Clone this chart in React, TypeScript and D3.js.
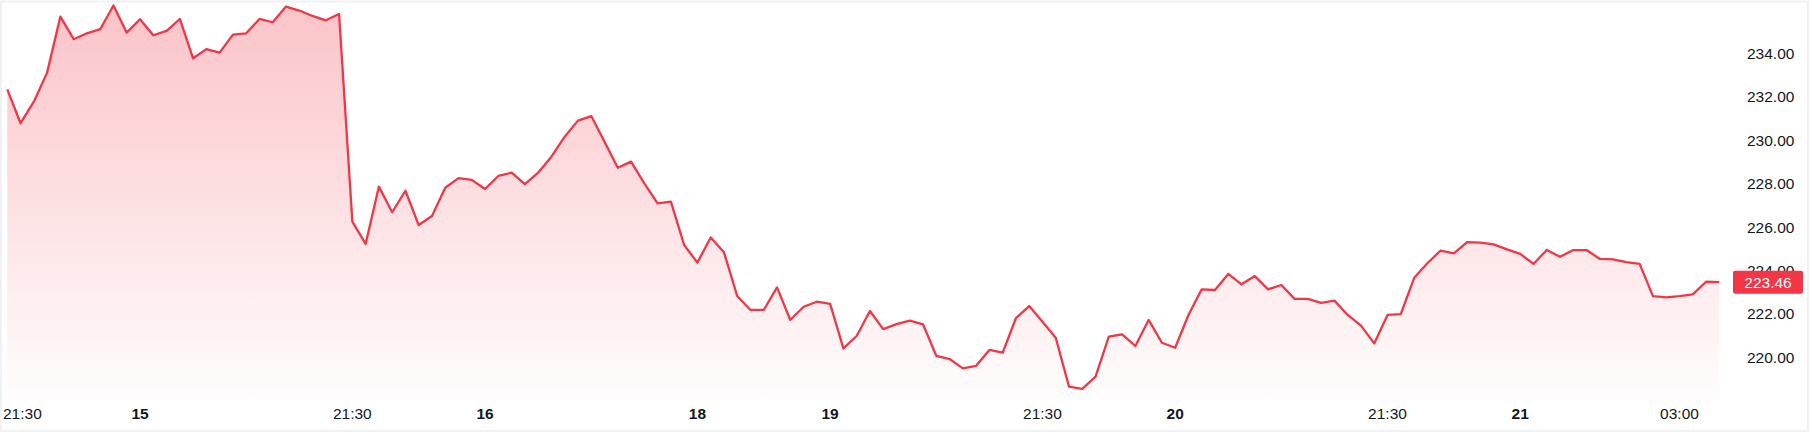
import React from "react";
import * as d3 from "d3";

const prices: number[] = [
  232.34, 230.78, 231.77, 233.11, 235.69, 234.65, 234.92, 235.11, 236.2, 234.95,
  235.57, 234.83, 235.03, 235.58, 233.77, 234.19, 234.03, 234.86, 234.92, 235.58,
  235.43, 236.15, 235.97, 235.72, 235.52, 235.81, 226.25, 225.22, 227.86, 226.68,
  227.67, 226.09, 226.51, 227.81, 228.25, 228.17, 227.75, 228.35, 228.5, 227.97,
  228.5, 229.24, 230.16, 230.9, 231.11, 229.93, 228.73, 229.01, 228.01, 227.09,
  227.17, 225.17, 224.36, 225.52, 224.84, 222.82, 222.18, 222.18, 223.22, 221.72,
  222.33, 222.56, 222.46, 220.41, 220.98, 222.13, 221.3, 221.53, 221.69, 221.52,
  220.07, 219.92, 219.49, 219.61, 220.34, 220.21, 221.8, 222.36, 221.64, 220.9,
  218.65, 218.55, 219.11, 220.95, 221.06, 220.52, 221.72, 220.67, 220.44, 221.95,
  223.13, 223.1, 223.84, 223.36, 223.74, 223.13, 223.33, 222.69, 222.69, 222.51,
  222.61, 221.95, 221.46, 220.64, 221.95, 221.99, 223.65, 224.33, 224.91, 224.79,
  225.3, 225.28, 225.2, 224.97, 224.76, 224.3, 224.94, 224.63, 224.94, 224.94,
  224.53, 224.51, 224.38, 224.3, 222.82, 222.76, 222.82, 222.9, 223.48, 223.46,
];

const timeTickIndex: number[] = [0, 10, 26, 36, 52, 62, 78, 88, 104, 114, 126];
const timeTickLabels: string[] = ["21:30", "15", "21:30", "16", "18", "19", "21:30", "20", "21:30", "21", "03:00"];
const timeTickBold: boolean[] = [false, true, false, true, true, true, false, true, false, true, false];

const priceTicks: number[] = [220, 222, 224, 226, 228, 230, 232, 234];
const lastPrice = 223.46;

const W = 1812;
const H = 437;
const RED = "#F23645";
const FONT = "'Liberation Sans', Arial, sans-serif";

export default function App() {
  const x = d3.scaleLinear().domain([0, prices.length - 1]).range([7.3, 1719.3]);
  const y = d3.scaleLinear().domain([220, 234]).range([357.3, 53.3]);
  const plotBottom = 400;

  const line = d3
    .line<number>()
    .x((_, i) => x(i))
    .y((d) => y(d));
  const area = d3
    .area<number>()
    .x((_, i) => x(i))
    .y0(plotBottom)
    .y1((d) => y(d));

  return (
    <svg
      width={W}
      height={H}
      style={{ position: "absolute", left: 0, top: 0, background: "#fff" }}
    >
      <defs>
        <linearGradient id="fillGrad" gradientUnits="userSpaceOnUse" x1="0" y1="0" x2="0" y2={plotBottom}>
          <stop offset="0%" stopColor={RED} stopOpacity={0.3} />
          <stop offset="100%" stopColor={RED} stopOpacity={0.01} />
        </linearGradient>
      </defs>
      <rect x={1} y={1.5} width={1807} height={429.5} fill="#fff" stroke="#f0f1f3" strokeWidth={2} />
      <path d={area(prices) || ""} fill="url(#fillGrad)" />
      <path d={line(prices) || ""} fill="none" stroke={RED} strokeWidth={2.3} strokeLinejoin="round" />

      {priceTicks.map((t) => (
        <text
          key={t}
          x={1747}
          y={y(t)}
          dy="0.36em"
          fontFamily={FONT}
          fontSize={15.5}
          fill="#131722"
        >
          {t.toFixed(2)}
        </text>
      ))}

      {timeTickIndex.map((idx, k) => {
        const px = x(idx);
        const nearLeft = px < 25;
        return (
          <text
            key={k}
            x={nearLeft ? 3 : px}
            y={413}
            dy="0.36em"
            textAnchor={nearLeft ? "start" : "middle"}
            fontFamily={FONT}
            fontSize={15.5}
            fontWeight={timeTickBold[k] ? 700 : 400}
            fill="#131722"
          >
            {timeTickLabels[k]}
          </text>
        );
      })}

      <rect x={1733} y={y(lastPrice) - 11.5} width={70} height={23} rx={2} fill={RED} />
      <text
        x={1768}
        y={y(lastPrice)}
        dy="0.36em"
        textAnchor="middle"
        fontFamily={FONT}
        fontSize={15.5}
        fill="#fff"
      >
        {lastPrice.toFixed(2)}
      </text>
    </svg>
  );
}
